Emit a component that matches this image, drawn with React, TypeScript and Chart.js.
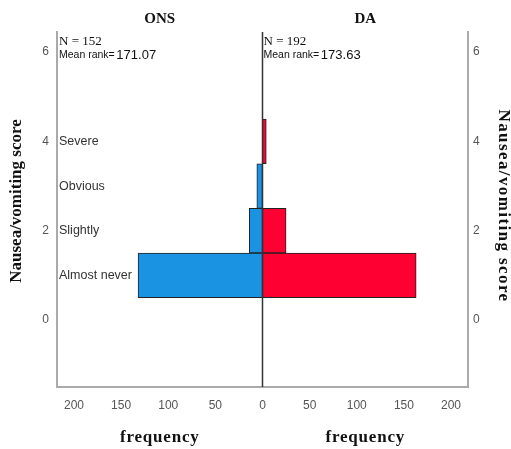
import React, { useEffect, useRef } from "react";
import { Chart, registerables } from "chart.js";

Chart.register(...registerables);

const categories = ["Almost never", "Slightly", "Obvious", "Severe"];
const scores = [1, 2, 3, 4];
const onsCounts = [132, 14, 6, 0];
const daCounts = [163, 25, 0, 4];
const xTickValues = [-200, -150, -100, -50, 0, 50, 100, 150, 200];
const yTickValues = [0, 2, 4, 6];
const groups = ["ONS", "DA"];
const groupN = [152, 192];
const meanRanks = ["171.07", "173.63"];

const SERIF = "'Liberation Serif', 'DejaVu Serif', serif";
const SANS = "'Liberation Sans', Arial, sans-serif";

const overlay = {
  id: "overlay",
  afterDatasetsDraw(chart: any) {
    const { ctx, chartArea, scales } = chart;
    const x = scales.x;
    const y = scales.y;
    const cx = x.getPixelForValue(0);
    ctx.save();
    // center line
    ctx.strokeStyle = "#333";
    ctx.lineWidth = 1.5;
    ctx.beginPath();
    ctx.moveTo(cx, chartArea.top);
    ctx.lineTo(cx, chartArea.bottom);
    ctx.stroke();

    // category labels
    ctx.fillStyle = "#333";
    ctx.font = `12.5px ${SANS}`;
    ctx.textAlign = "left";
    ctx.textBaseline = "middle";
    categories.forEach((c, i) => {
      ctx.fillText(c, chartArea.left + 2, y.getPixelForValue(scores[i]));
    });

    // group titles and stats
    const centers = [(chartArea.left + cx) / 2, (cx + chartArea.right) / 2];
    const starts = [chartArea.left + 2, cx + 1];
    groups.forEach((g, i) => {
      ctx.fillStyle = "#111";
      ctx.font = `bold 15px ${SERIF}`;
      ctx.textAlign = "center";
      ctx.fillText(g, centers[i], 19);
      ctx.font = `bold 17px ${SERIF}`;
      (ctx as any).letterSpacing = "0.8px";
      ctx.fillText("frequency", centers[i], 438);
      (ctx as any).letterSpacing = "0px";
      ctx.textAlign = "left";
      ctx.font = `13px ${SERIF}`;
      ctx.fillText(`N = ${groupN[i]}`, starts[i], 42);
      ctx.font = `10.5px ${SANS}`;
      const lbl = "Mean rank=";
      ctx.fillText(lbl, starts[i], 55);
      const w = ctx.measureText(lbl).width;
      ctx.font = `13px ${SANS}`;
      ctx.fillText(" " + meanRanks[i], starts[i] + w - 2, 55);
    });

    // axis titles
    ctx.fillStyle = "#111";
    ctx.font = `bold 17px ${SERIF}`;
    ctx.textAlign = "center";
    ctx.save();
    ctx.translate(17, 201);
    ctx.rotate(-Math.PI / 2);
    ctx.fillText("Nausea/vomiting score", 0, 0);
    ctx.restore();
    ctx.save();
    ctx.translate(503, 206);
    ctx.rotate(Math.PI / 2);
    (ctx as any).letterSpacing = "1.4px";
    ctx.fillText("Nausea/vomiting score", 0, 0);
    ctx.restore();
    ctx.restore();
  },
};

export default function App() {
  const ref = useRef<HTMLCanvasElement | null>(null);
  useEffect(() => {
    if (!ref.current) return;
    const onsData: any[] = [];
    const daData: any[] = [];
    scores.forEach((s, i) => {
      if (onsCounts[i] > 0) onsData.push({ y: s, x: [-onsCounts[i], 0] });
      if (daCounts[i] > 0) daData.push({ y: s, x: [0, daCounts[i]] });
    });
    const tickFont = { family: SANS, size: 12 };
    const chart = new Chart(ref.current, {
      type: "bar",
      data: {
        datasets: [
          {
            label: "ONS",
            data: onsData,
            backgroundColor: "#1a93e3",
            borderColor: "#222",
            borderWidth: 1,
            borderSkipped: false,
            barPercentage: 1,
            categoryPercentage: 1,
            grouped: false,
          } as any,
          {
            label: "DA",
            data: daData,
            backgroundColor: "#ff0033",
            borderColor: "#222",
            borderWidth: 1,
            borderSkipped: false,
            barPercentage: 1,
            categoryPercentage: 1,
            grouped: false,
          } as any,
        ],
      },
      options: {
        indexAxis: "y",
        responsive: false,
        animation: false,
        layout: { padding: { top: 32, left: 0, right: 0, bottom: 0 } },
        plugins: { legend: { display: false }, tooltip: { enabled: false } },
        scales: {
          x: {
            type: "linear",
            min: -218,
            max: 218,
            grid: { display: false, drawTicks: false },
            border: { color: "#aaa", width: 2 },
            afterBuildTicks: (s: any) => {
              s.ticks = xTickValues.map((v) => ({ value: v }));
            },
            afterFit: (s: any) => {
              s.height = 62;
            },
            ticks: {
              padding: 11,
              color: "#555",
              font: tickFont,
              autoSkip: false,
              maxRotation: 0,
              callback: (v: any) => String(Math.abs(Number(v))),
            },
          },
          y: {
            type: "linear",
            position: "left",
            min: -1.5,
            max: 6.45,
            offset: false,
            grid: { display: false, drawTicks: false, offset: false },
            border: { color: "#aaa", width: 2 },
            afterBuildTicks: (s: any) => {
              s.ticks = yTickValues.map((v) => ({ value: v }));
            },
            afterFit: (s: any) => {
              s.width = 57;
            },
            ticks: { padding: 8, color: "#555", font: tickFont },
          },
          y2: {
            type: "linear",
            position: "right",
            min: -1.5,
            max: 6.45,
            offset: false,
            grid: { display: false, drawTicks: false, offset: false },
            border: { color: "#aaa", width: 2 },
            afterBuildTicks: (s: any) => {
              s.ticks = yTickValues.map((v) => ({ value: v }));
            },
            afterFit: (s: any) => {
              s.width = 43;
            },
            ticks: { padding: 5, color: "#555", font: tickFont },
          },
        },
      } as any,
      plugins: [overlay],
    });
    return () => chart.destroy();
  }, []);
  return (
    <div style={{ position: "fixed", left: 0, top: 0, width: 511, height: 449, background: "#fff" }}>
      <canvas ref={ref} width={511} height={449} style={{ width: 511, height: 449 }} />
    </div>
  );
}
